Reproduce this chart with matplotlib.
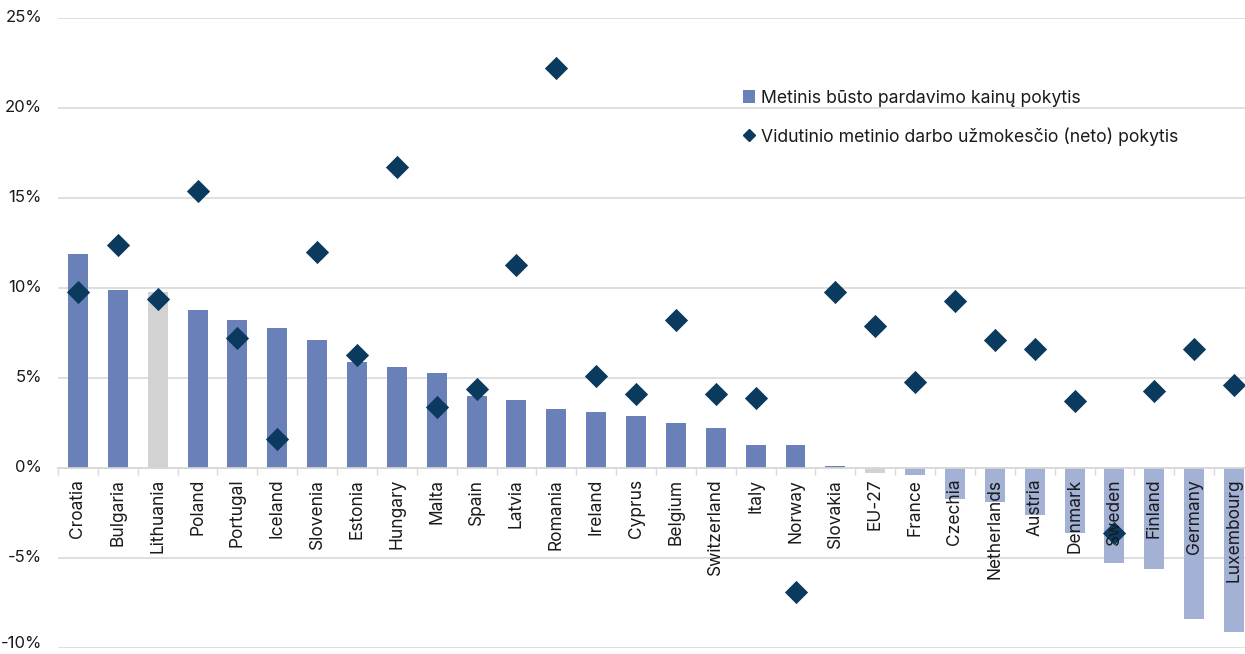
import matplotlib
matplotlib.use("Agg")
import matplotlib.pyplot as plt
from matplotlib.lines import Line2D
from matplotlib.patches import Patch
from matplotlib.ticker import FixedLocator, NullFormatter

plt.rcParams['font.family'] = ['Inter', 'DejaVu Sans']

countries = ["Croatia", "Bulgaria", "Lithuania", "Poland", "Portugal", "Iceland",
             "Slovenia", "Estonia", "Hungary", "Malta", "Spain", "Latvia",
             "Romania", "Ireland", "Cyprus", "Belgium", "Switzerland", "Italy",
             "Norway", "Slovakia", "EU-27", "France", "Czechia", "Netherlands",
             "Austria", "Denmark", "Sweden", "Finland", "Germany", "Luxembourg"]

# annual change of house sale prices, %
house_prices = [11.9, 9.9, 9.8, 8.8, 8.2, 7.8, 7.1, 5.9, 5.6, 5.3, 4.0, 3.8,
                3.3, 3.1, 2.9, 2.5, 2.2, 1.3, 1.3, 0.1, -0.3, -0.4, -1.7, -1.9,
                -2.6, -3.6, -5.3, -5.6, -8.4, -9.1]

# annual change of average net wage, %
net_wages = [9.8, 12.4, 9.4, 15.4, 7.2, 1.6, 12.0, 6.3, 16.7, 3.4, 4.4, 11.3,
             22.2, 5.1, 4.1, 8.2, 4.1, 3.9, -6.9, 9.8, 7.9, 4.8, 9.3, 7.1,
             6.6, 3.7, -3.6, 4.3, 6.6, 4.6]

y_ticks = [-10, -5, 0, 5, 10, 15, 20, 25]

grey_items = ["Lithuania", "EU-27"]

BAR_POS = "#6a80b8"
BAR_NEG = "#a3b1d4"
BAR_GREY = "#d2d2d2"
DIAMOND = "#0b3a5f"
GRID = "#d9d9d9"
TEXT = "#1a1a1a"

colors = []
for name, v in zip(countries, house_prices):
    if name in grey_items:
        colors.append(BAR_GREY)
    elif v < 0:
        colors.append(BAR_NEG)
    else:
        colors.append(BAR_POS)

fig = plt.figure(figsize=(12.45, 6.54), dpi=100)
ax = fig.add_axes([0.0466, 0.0092, 0.9606, 0.9633])

x = list(range(len(countries)))
ax.bar(x, house_prices, width=0.5, color=colors, zorder=2)
ax.scatter(x, net_wages, marker="D", s=140, color=DIAMOND, zorder=4,
           linewidths=0)

# country names sit just under the zero line, on top of the markers
for i, name in enumerate(countries):
    ax.text(i, -0.6, name, rotation=90, ha="center", va="top",
            fontsize=12.5, color=TEXT, zorder=5)

ax.set_xlim(-0.5, 29.5)
ax.set_ylim(-10, 25)
ax.yaxis.set_major_locator(FixedLocator(y_ticks))
ax.yaxis.set_major_formatter(NullFormatter())
ax.tick_params(axis="y", length=0)
ax.grid(axis="y", color=GRID, linewidth=1.2, zorder=0)

# percent labels; the lowest one is nudged up so it stays on the canvas
for v in y_ticks:
    ax.annotate(f"{v}%", xy=(0, v), xycoords=("axes fraction", "data"),
                xytext=(-11.5, 3 if v == y_ticks[0] else 0),
                textcoords="offset points", ha="right", va="center",
                fontsize=12, color=TEXT, annotation_clip=False)

for side in ["left", "right", "top"]:
    ax.spines[side].set_visible(False)
ax.spines["bottom"].set_position(("data", 0))
ax.spines["bottom"].set_color(GRID)
ax.spines["bottom"].set_linewidth(1.2)
ax.set_xticks([i - 0.5 for i in range(len(countries) + 1)])
ax.set_xticklabels([])
ax.tick_params(axis="x", length=5, color=GRID, width=1)

handles = [
    Patch(facecolor=BAR_POS, edgecolor="none",
          label="Metinis būsto pardavimo kainų pokytis"),
    Line2D([], [], marker="D", linestyle="none", color=DIAMOND, markersize=6,
           label="Vidutinio metinio darbo užmokesčio (neto) pokytis"),
]
fig.legend(handles=handles, loc="upper left", bbox_to_anchor=(0.584, 0.887),
           frameon=False, fontsize=12.7, handlelength=0.7, handletextpad=0.3,
           labelspacing=1.15, labelcolor=TEXT)

fig.savefig("out.png", dpi=100)
